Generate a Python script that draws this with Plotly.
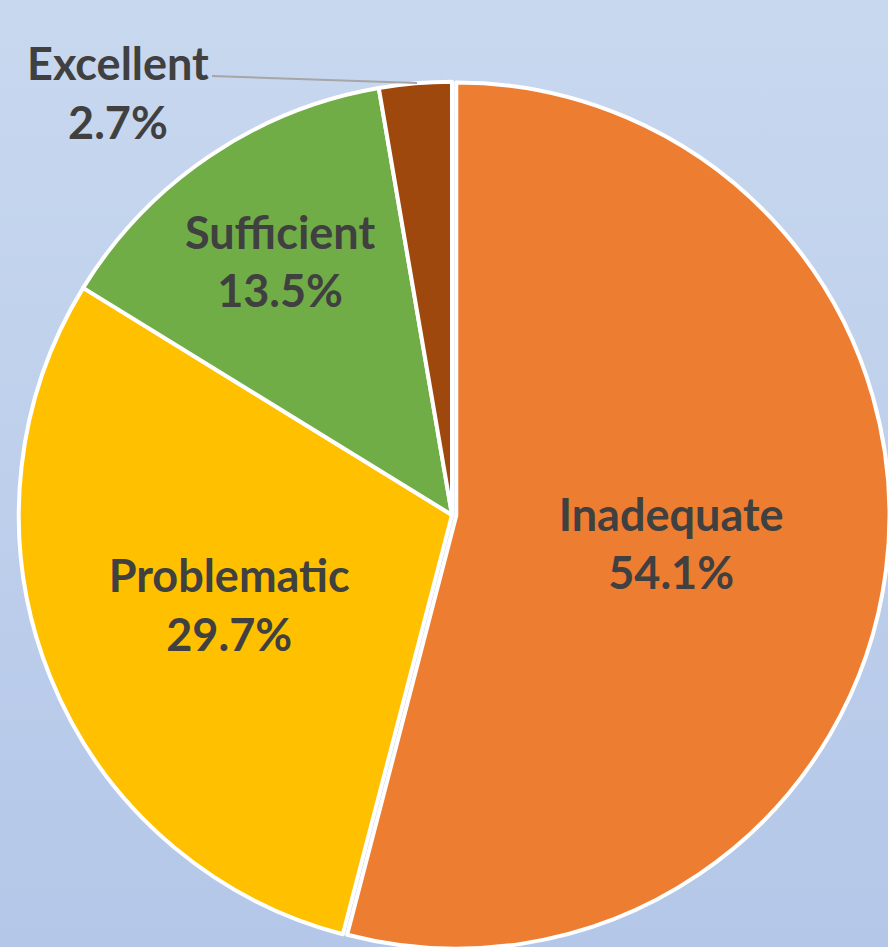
import base64
import plotly.graph_objects as go

# rating breakdown (counts out of 37)
labels = ["Inadequate", "Problematic", "Sufficient", "Excellent"]
counts = [20, 11, 5, 1]
colors = ["#ED7D31", "#FFC000", "#70AD47", "#9E480E"]

# window is 888x947; the pie runs slightly past the bottom/right edge
W, H = 890, 953
VW, VH = 888, 947

total = sum(counts)
pct = [100 * c / total for c in counts]
texts = [f"{l}<br>{p:.1f}%" for l, p in zip(labels, pct)]
texts[-1] = ""  # small slice labelled outside

# soft blue gradient behind the chart
svg = (f'<svg xmlns="http://www.w3.org/2000/svg" width="{VW}" height="{VH}">'
       '<defs><linearGradient id="g" x1="0" y1="0" x2="0" y2="1">'
       '<stop offset="0" stop-color="#c8d8ef"/><stop offset="1" stop-color="#b4c7e8"/>'
       '</linearGradient></defs>'
       f'<rect width="{VW}" height="{VH}" fill="url(#g)"/></svg>')
bg = "data:image/svg+xml;base64," + base64.b64encode(svg.encode()).decode()

font = dict(family="Lato", size=45, color="#404040", weight="bold")

fig = go.Figure()
fig.add_trace(go.Pie(labels=labels, values=counts, sort=False, direction="clockwise",
                     rotation=0, pull=[0.01, 0, 0, 0],
                     marker=dict(colors=colors, line=dict(color="white", width=4)),
                     text=texts, textinfo="text", textposition="inside",
                     insidetextorientation="horizontal", textfont=font,
                     hoverinfo="label+percent",
                     domain=dict(x=[14.5 / W, 889.5 / W], y=[1 - 952.5 / H, 1 - 77.5 / H])))

fig.update_layout(width=W, height=H, margin=dict(l=0, r=0, t=0, b=0),
                  showlegend=False, paper_bgcolor="#b4c7e8",
                  uniformtext=dict(minsize=45, mode="show"),
                  images=[dict(source=bg, xref="paper", yref="paper", x=0, y=1,
                               sizex=VW / W, sizey=VH / H, xanchor="left", yanchor="top",
                               sizing="stretch", layer="below")])

# outside label for the thin slice, with its leader line
fig.add_annotation(x=118 / W, y=1 - 93 / H, xref="paper", yref="paper",
                   xanchor="center", yanchor="middle",
                   text=f"{labels[3]}<br>{pct[3]:.1f}%", showarrow=False, font=font)
fig.add_shape(type="line", xref="paper", yref="paper",
              x0=212 / W, y0=1 - 76 / H, x1=417 / W, y1=1 - 83 / H,
              line=dict(color="#a6a6a6", width=2))

fig.write_html("out.html", config={"displayModeBar": False},
               post_script="document.body.style.margin='0';"
                           "document.body.style.overflow='hidden';")
